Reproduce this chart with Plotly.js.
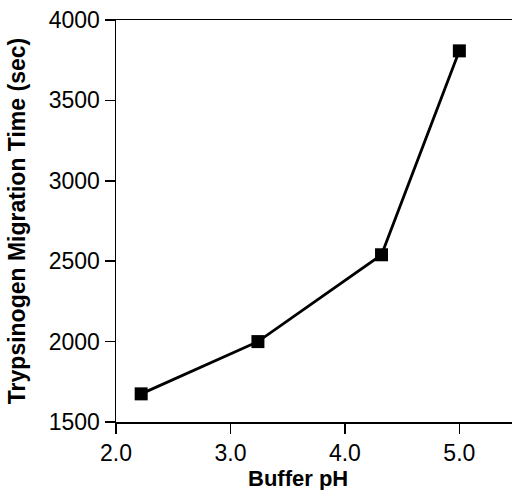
<!DOCTYPE html>
<html>
<head>
<meta charset="utf-8">
<script src="https://cdn.plot.ly/plotly-3.0.1.min.js"></script>
<style>html,body{margin:0;padding:0;background:#fff;}#chart{width:512px;height:490px;}</style>
</head>
<body>
<div id="chart"></div>
<script>
const bufferPH = [2.22, 3.24, 4.32, 5.0];
const migrationTime = [1675, 2000, 2540, 3808];
const xTickVals = [2, 3, 4, 5];
const xTickText = ['2.0', '3.0', '4.0', '5.0'];
const yTickVals = [1500, 2000, 2500, 3000, 3500, 4000];
const yTickText = ['1500', '2000', '2500', '3000', '3500', '4000'];
const xTitle = 'Buffer pH';
const yTitle = 'Trypsinogen Migration Time (sec)';

const trace = {
  x: bufferPH,
  y: migrationTime,
  type: 'scatter',
  mode: 'lines+markers',
  line: {color: '#000', width: 2.8},
  marker: {symbol: 'square', size: 13, color: '#000'},
  showlegend: false,
  hoverinfo: 'none'
};

const layout = {
  width: 512,
  height: 490,
  margin: {l: 116, r: 0, t: 20, b: 68},
  paper_bgcolor: '#fff',
  plot_bgcolor: '#fff',
  font: {family: '"Liberation Sans", Arial, sans-serif', color: '#000', size: 23},
  xaxis: {
    range: [2, 5.46],
    tickvals: xTickVals,
    ticktext: xTickText,
    ticks: 'outside',
    ticklen: 10,
    tickwidth: 1.5,
    tickcolor: '#000',
    showline: true,
    linecolor: '#000',
    linewidth: 1.5,
    mirror: true,
    showgrid: false,
    zeroline: false,
    automargin: false,
    tickfont: {size: 23}
  },
  yaxis: {
    range: [1500, 4000],
    tickvals: yTickVals,
    ticktext: yTickText,
    ticks: 'outside',
    ticklen: 10,
    tickwidth: 1.5,
    tickcolor: '#000',
    showline: true,
    linecolor: '#000',
    linewidth: 1.5,
    showgrid: false,
    zeroline: false,
    automargin: false,
    tickfont: {size: 23},
    title: {text: '<b>' + yTitle + '</b>', font: {size: 23}, standoff: 16}
  },
  annotations: [{
    text: '<b>' + xTitle + '</b>',
    xref: 'paper', yref: 'paper',
    x: 0.46, y: -0.107,
    xanchor: 'center', yanchor: 'top',
    borderpad: 0,
    showarrow: false,
    font: {size: 22, color: '#000'}
  }]
};

Plotly.newPlot('chart', [trace], layout, {staticPlot: true, displayModeBar: false});
</script>
</body>
</html>
